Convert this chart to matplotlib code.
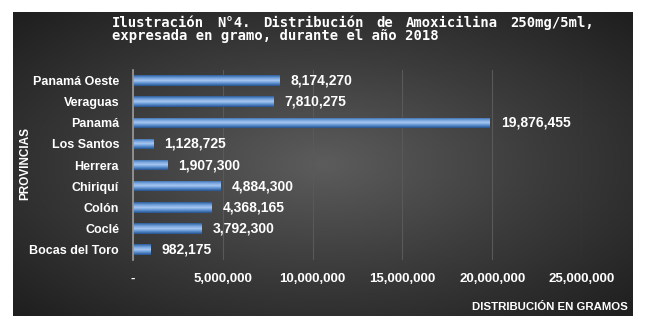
import numpy as np
import matplotlib.pyplot as plt
from matplotlib.colors import LinearSegmentedColormap

provincias = ["Bocas del Toro", "Coclé", "Colón", "Chiriquí", "Herrera",
              "Los Santos", "Panamá", "Veraguas", "Panamá Oeste"]
gramos = [982175, 3792300, 4368165, 4884300, 1907300,
          1128725, 19876455, 7810275, 8174270]
x_ticks = [0, 5000000, 10000000, 15000000, 20000000, 25000000]
x_tick_labels = ["-", "5,000,000", "10,000,000", "15,000,000", "20,000,000", "25,000,000"]

fig = plt.figure(figsize=(6.5, 3.25), dpi=100)
fig.patch.set_facecolor("white")

# dark radial background panel
bg = fig.add_axes([13/650, 1-316/325, 620/650, 304/325])
yy, xx = np.mgrid[-1:1:200j, -1:1:400j]
r = np.sqrt(xx**2 + yy**2)
bg_cmap = LinearSegmentedColormap.from_list("bg", ["#5c5c5c", "#3c3c3c", "#1f1f1f"])
bg.imshow(r, cmap=bg_cmap, aspect="auto", extent=[0, 1, 0, 1], vmin=0, vmax=1.4)
bg.set_axis_off()

ax = fig.add_axes([133/650, 1-260/325, 449/650, 190/325])
ax.patch.set_alpha(0)

y = np.arange(len(provincias))
bars = ax.barh(y, gramos, height=0.5, color="#4f81bd", zorder=3)

# gradient fill on bars to mimic the 3D look
bar_cmap = LinearSegmentedColormap.from_list("bar", ["#2c5d98", "#6f9fdc", "#a9c8f0", "#5b8ed0", "#25528a"])
grad = np.linspace(0, 1, 64).reshape(-1, 1)
for b in bars:
    x0, y0 = b.get_x(), b.get_y()
    im = ax.imshow(grad, cmap=bar_cmap, aspect="auto", zorder=4,
                   extent=[x0, x0 + b.get_width(), y0, y0 + b.get_height()])
    im.set_clip_path(b)

for yi, v in zip(y, gramos):
    ax.text(v + 620000, yi, f"{v:,}", va="center", ha="left", color="white",
            fontsize=10, fontweight="bold", family="Liberation Sans", zorder=5)

ax.set_xlim(0, 25000000)
ax.set_ylim(-0.5, len(provincias) - 0.5)
ax.set_xticks(x_ticks)
ax.set_xticklabels(x_tick_labels, color="white", fontsize=9.5, fontweight="bold",
                   family="Liberation Sans")
ax.set_yticks(y)
ax.set_yticklabels(provincias, color="white", fontsize=9, fontweight="bold",
                   family="Liberation Sans")
ax.tick_params(axis="x", length=0, pad=9)
ax.tick_params(axis="y", length=0, pad=10)
ax.xaxis.grid(True, color="#595959", linewidth=0.8, zorder=0)
ax.set_axisbelow(True)
for s in ["top", "right", "bottom"]:
    ax.spines[s].set_visible(False)
ax.spines["left"].set_color("#9a9a9a")
ax.spines["left"].set_linewidth(1.2)
ax.spines["left"].set_zorder(6)

fig.text(25/650, 1-164/325, "PROVINCIAS", rotation=90, ha="center", va="center",
         color="white", fontsize=8.5, fontweight="bold", family="Liberation Sans")
fig.text(628/650, 1-307/325, "DISTRIBUCIÓN EN GRAMOS", ha="right", va="center",
         color="white", fontsize=8.2, fontweight="bold", family="Liberation Sans")

# title: first line justified across the panel, second line left aligned
title_1 = ["Ilustración", "N°4.", "Distribución", "de", "Amoxicilina", "250mg/5ml,"]
title_2 = "expresada en gramo, durante el año 2018"
tkw = dict(color="white", fontsize=10, fontweight="bold", family="DejaVu Sans Mono", va="top")
left, right = 112 / 650, 594 / 650
renderer = fig.canvas.get_renderer()
words = [fig.text(0, 1 - 16/325, w, ha="left", **tkw) for w in title_1]
widths = [t.get_window_extent(renderer).width / fig.bbox.width for t in words]
gap = (right - left - sum(widths)) / (len(words) - 1)
xpos = left
for t, w in zip(words, widths):
    t.set_x(xpos)
    xpos += w + gap
fig.text(left, 1 - 29/325, title_2, ha="left", **tkw)

fig.savefig("out.png", dpi=100)
